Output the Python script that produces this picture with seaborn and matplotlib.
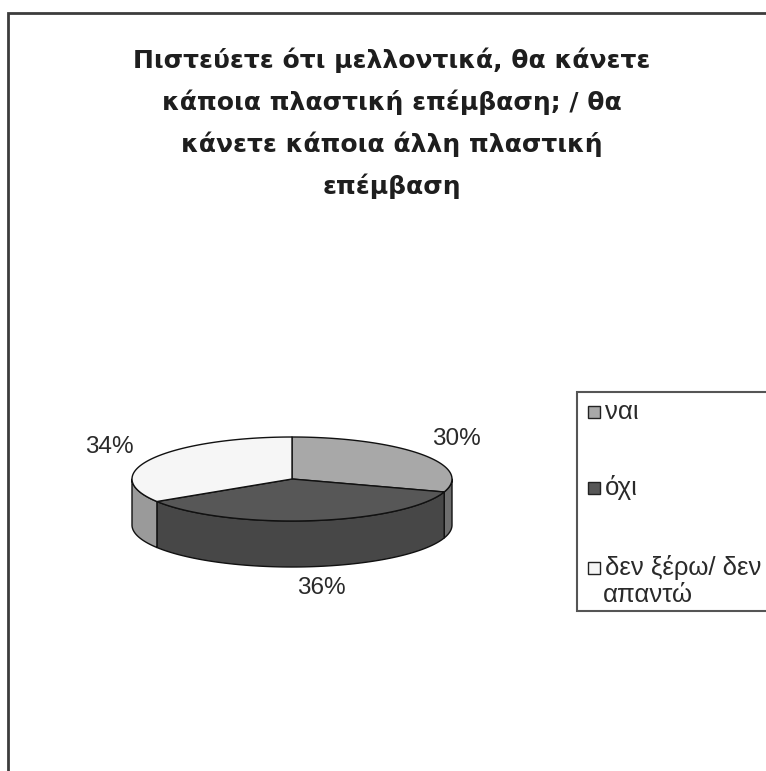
import numpy as np
import matplotlib
matplotlib.use("Agg")
import matplotlib.pyplot as plt
from matplotlib.patches import Polygon, Rectangle
import seaborn as sns

# Survey answers and their shares (%)
categories = ["ναι", "όχι", "δεν ξέρω/ δεν\nαπαντώ"]
shares = [30, 36, 34]
title_lines = [
    "Πιστεύετε ότι μελλοντικά, θα κάνετε",
    "κάποια πλαστική επέμβαση; / θα",
    "κάνετε κάποια άλλη πλαστική",
    "επέμβαση",
]

sns.set_theme(style="white")
plt.rcParams["font.family"] = ["Liberation Sans", "DejaVu Sans"]

top_colors = sns.color_palette(["#a8a8a8", "#575757", "#f6f6f6"])
side_colors = sns.color_palette(["#6e6e6e", "#474747", "#9a9a9a"])

W, H = 766, 771
fig = plt.figure(figsize=(W / 100, H / 100), dpi=100)
fig.patch.set_facecolor("white")
ax = fig.add_axes([0, 0, 1, 1])
ax.set_xlim(0, W)
ax.set_ylim(H, 0)
ax.axis("off")

# Chart frame
ax.plot([8, 8, W], [H, 13, 13], color="#3c3c3c", lw=2, solid_joinstyle="miter")

# Title, one line at a time
for i, line in enumerate(title_lines):
    ax.text(392, 68 + 42 * i, line, ha="center", va="baseline",
            fontsize=18, fontweight="bold", color="#1e1e1e",
            family=["DejaVu Sans"])

# 3-D pie geometry (pixel space)
cx, cy, rx, ry, depth = 292, 479, 160, 42, 46


def arc(a0, a1, dy=0.0, n=80):
    t = np.radians(np.linspace(a0, a1, n))
    return np.column_stack([cx + rx * np.cos(t), cy - ry * np.sin(t) + dy])


total = float(sum(shares))
bounds = []
start = 90.0
for v in shares:
    end = start - 360.0 * v / total
    bounds.append((start, end))
    start = end

# Side walls: only the front half (angles between -180 and 0) is visible
for (a0, a1), col in zip(bounds, side_colors):
    for shift in (0.0, -360.0, 360.0):
        hi = min(a0 + shift, 0.0)
        lo = max(a1 + shift, -180.0)
        if hi > lo:
            upper = arc(hi, lo)
            lower = arc(lo, hi, dy=depth)
            ax.add_patch(Polygon(np.vstack([upper, lower]), closed=True,
                                 facecolor=col, edgecolor="#111111", lw=1.0,
                                 joinstyle="round"))

# Top faces
for (a0, a1), col in zip(bounds, top_colors):
    pts = np.vstack([[cx, cy], arc(a0, a1)])
    ax.add_patch(Polygon(pts, closed=True, facecolor=col,
                         edgecolor="#111111", lw=1.0, joinstyle="round"))

# Percentage labels
label_pos = [(456, 439), (321, 588), (109, 447)]
for v, (x, y) in zip(shares, label_pos):
    ax.text(x, y, f"{v}%", ha="center", va="center", fontsize=17.5,
            color="#2a2a2a")

# Legend
ax.add_patch(Rectangle((577, 392), 240, 219, facecolor="white",
                       edgecolor="#555555", lw=1.5))
legend_base = [419, 495, 575]
for lab, col, yb in zip(categories, top_colors, legend_base):
    ax.add_patch(Rectangle((588, yb - 13), 12, 12, facecolor=col,
                           edgecolor="#222222", lw=1.0))
    for j, part in enumerate(lab.split("\n")):
        ax.text(605 if j == 0 else 603, yb + 27 * j, part, ha="left",
                va="baseline", fontsize=18.5, color="#2a2a2a")

fig.savefig("out.png", dpi=100, facecolor="white")
